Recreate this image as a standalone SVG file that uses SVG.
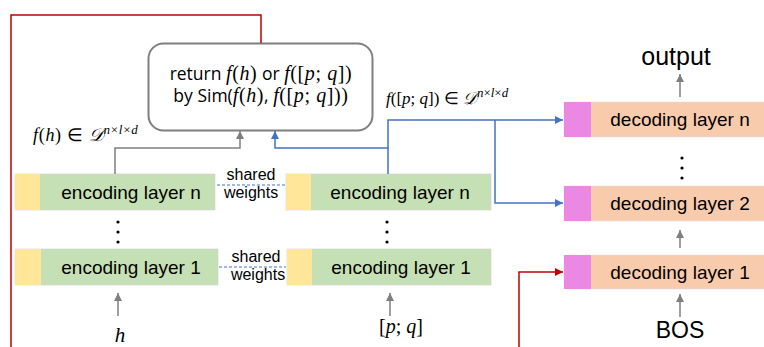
<svg xmlns="http://www.w3.org/2000/svg" width="764" height="347" viewBox="0 0 764 347">
<defs>
<marker id="ag" markerWidth="8" markerHeight="8" refX="8" refY="4" orient="auto" markerUnits="userSpaceOnUse"><path d="M0,0 L8,4 L0,8 Z" fill="#7f7f7f"/></marker>
<marker id="ab" markerWidth="8" markerHeight="8" refX="8" refY="4" orient="auto" markerUnits="userSpaceOnUse"><path d="M0,0 L8,4 L0,8 Z" fill="#4472C4"/></marker>
<marker id="ar" markerWidth="8" markerHeight="8" refX="8" refY="4" orient="auto" markerUnits="userSpaceOnUse"><path d="M0,0 L8,4 L0,8 Z" fill="#C00000"/></marker>
</defs>
<style>
.s{font-family:"Liberation Sans",Arial,sans-serif;fill:#000}
.lbl{font-size:19px;text-anchor:middle}
.sw{font-size:16px;text-anchor:middle}
.m{font-family:"Liberation Serif","Times New Roman",serif}
.i{font-style:italic}
.bx{font-family:"Open Sans","Liberation Sans",sans-serif;font-size:17.5px;text-anchor:middle;fill:#000}
.bx .m{font-size:20px;letter-spacing:0.6px}
.lab{font-size:18px;letter-spacing:0.7px}
.lab2{font-size:17px}
.sup{font-size:13px}
.enc{fill:#C5E0B4;stroke:#cfcfcf;stroke-width:0.6}
.yel{fill:#FFE699}
.dec{fill:#F8CBAD;stroke:#e0e0e0;stroke-width:0.6}
.pnk{fill:#EA88E4}
.g{fill:none;stroke:#7f7f7f;stroke-width:1.5}
.b{fill:none;stroke:#4472C4;stroke-width:1.5}
.r{fill:none;stroke:#C00000;stroke-width:1.5}
.dash{fill:none;stroke:#4472C4;stroke-width:1;stroke-dasharray:3,2}
.dot{fill:#000}
</style>

<g id="sim-box">
<rect x="148.5" y="43.5" width="224" height="87" rx="15" fill="#fff" stroke="#7f7f7f" stroke-width="2"/>
<text x="261" y="80" class="bx">return <tspan class="m i">f</tspan><tspan class="m">(</tspan><tspan class="m i">h</tspan><tspan class="m">)</tspan> or <tspan class="m i">f</tspan><tspan class="m">([</tspan><tspan class="m i">p</tspan><tspan class="m">; </tspan><tspan class="m i">q</tspan><tspan class="m">])</tspan></text>
<text x="261" y="102" class="bx">by Sim(<tspan class="m i">f</tspan><tspan class="m">(</tspan><tspan class="m i">h</tspan><tspan class="m">)</tspan>, <tspan class="m i">f</tspan><tspan class="m">([</tspan><tspan class="m i">p</tspan><tspan class="m">; </tspan><tspan class="m i">q</tspan><tspan class="m">]))</tspan></text>
</g>

<g id="enc-left-n">
<rect x="15" y="174" width="200" height="36" class="enc"/>
<rect x="15" y="174" width="25" height="36" class="yel"/>
<text x="131" y="199" class="s lbl">encoding layer n</text>
</g>
<g id="enc-left-1">
<rect x="15" y="249" width="203" height="36" class="enc"/>
<rect x="15" y="249" width="26" height="36" class="yel"/>
<text x="131" y="274" class="s lbl">encoding layer 1</text>
</g>
<g id="enc-right-n">
<rect x="286" y="174" width="205" height="36" class="enc"/>
<rect x="286" y="174" width="25" height="36" class="yel"/>
<text x="400" y="199" class="s lbl">encoding layer n</text>
</g>
<g id="enc-right-1">
<rect x="287" y="249" width="204" height="36" class="enc"/>
<rect x="287" y="249" width="25" height="36" class="yel"/>
<text x="401" y="274" class="s lbl">encoding layer 1</text>
</g>

<g id="dec-n">
<rect x="564" y="102" width="202" height="35" class="dec"/>
<rect x="564" y="102" width="27" height="35" class="pnk"/>
<text x="680" y="126" class="s lbl">decoding layer n</text>
</g>
<g id="dec-2">
<rect x="564" y="186" width="202" height="35" class="dec"/>
<rect x="564" y="186" width="27" height="35" class="pnk"/>
<text x="680" y="210" class="s lbl">decoding layer 2</text>
</g>
<g id="dec-1">
<rect x="564" y="255" width="202" height="34" class="dec"/>
<rect x="564" y="255" width="27" height="34" class="pnk"/>
<text x="680" y="279" class="s lbl">decoding layer 1</text>
</g>

<g id="labels">
<text x="33" y="141" class="m lab"><tspan class="i">f</tspan>(<tspan class="i">h</tspan>) ∈ <tspan class="i">𝒟</tspan><tspan dy="-7" class="i sup">n</tspan><tspan class="sup">×</tspan><tspan class="i sup">l</tspan><tspan class="sup">×</tspan><tspan class="i sup">d</tspan></text>
<text x="386" y="104" class="m lab2"><tspan class="i">f</tspan>([<tspan class="i">p</tspan>; <tspan class="i">q</tspan>]) ∈ <tspan class="i">𝒟</tspan><tspan dy="-7" class="i sup">n</tspan><tspan class="sup">×</tspan><tspan class="i sup">l</tspan><tspan class="sup">×</tspan><tspan class="i sup">d</tspan></text>
<text x="251" y="180" class="s sw">shared</text>
<text x="251" y="198" class="s sw">weights</text>
<text x="256" y="262" class="s sw">shared</text>
<text x="258" y="280" class="s sw">weights</text>
<text x="676" y="65" class="s" font-size="25" text-anchor="middle">output</text>
<text x="680" y="338" class="s" font-size="23" text-anchor="middle">BOS</text>
<text x="120" y="342" class="m i" font-size="21" text-anchor="middle">h</text>
<text x="401" y="333" class="m" font-size="20" text-anchor="middle">[<tspan class="i">p</tspan>; <tspan class="i">q</tspan>]</text>
<circle cx="118" cy="222" r="1.6" class="dot"/><circle cx="118" cy="232" r="1.6" class="dot"/><circle cx="118" cy="242" r="1.6" class="dot"/>
<circle cx="387" cy="222" r="1.6" class="dot"/><circle cx="387" cy="232" r="1.6" class="dot"/><circle cx="387" cy="242" r="1.6" class="dot"/>
<circle cx="682" cy="158" r="1.6" class="dot"/><circle cx="682" cy="168" r="1.6" class="dot"/><circle cx="682" cy="178" r="1.6" class="dot"/>
</g>

<g id="connectors">
<path d="M11,347 V15 H261 V43" class="r"/>
<path d="M519,347 V272 H563" class="r" marker-end="url(#ar)"/>
<path d="M115,174 V148 H240 V131" class="g" marker-end="url(#ag)"/>
<path d="M388,174 V148 H275 V131" class="b" marker-end="url(#ab)"/>
<path d="M388,148 V120 H563" class="b" marker-end="url(#ab)"/>
<path d="M495,120 V203 H563" class="b" marker-end="url(#ab)"/>
<path d="M217,185 H285" class="dash"/>
<path d="M219,267 H286" class="dash"/>
<path d="M118,316 V293" class="g" marker-end="url(#ag)"/>
<path d="M390,316 V293" class="g" marker-end="url(#ag)"/>
<path d="M680,97 V74" class="g" marker-end="url(#ag)"/>
<path d="M680,248 V230" class="g" marker-end="url(#ag)"/>
<path d="M680,317 V294" class="g" marker-end="url(#ag)"/>
</g>
</svg>
